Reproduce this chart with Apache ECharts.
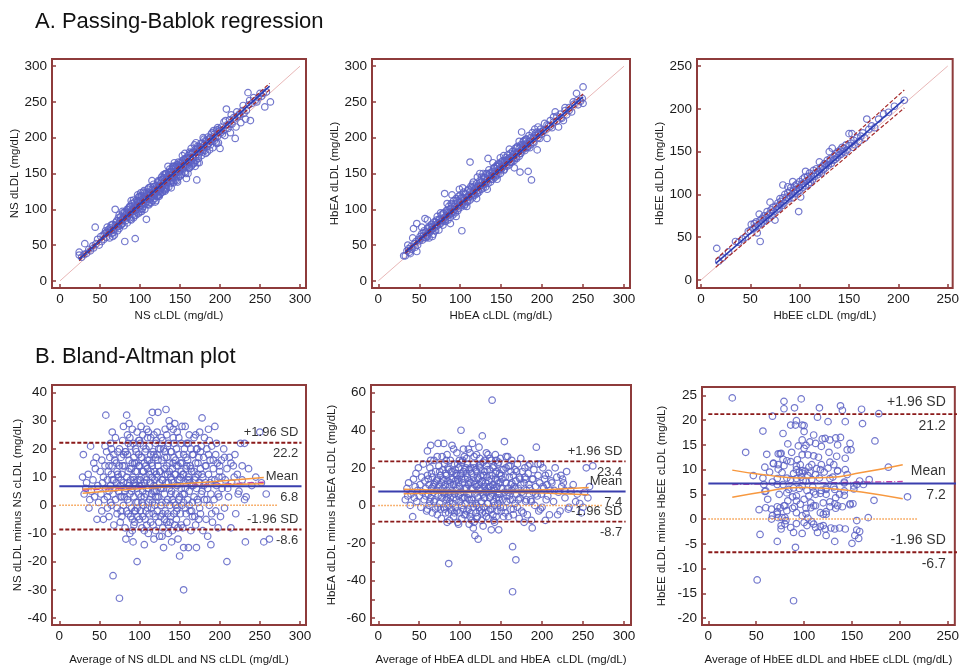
<!DOCTYPE html>
<html><head><meta charset="utf-8">
<script src="https://cdn.jsdelivr.net/npm/echarts@6/dist/echarts.min.js"></script>
<style>html,body{margin:0;padding:0;background:#fff}#c{width:962px;height:667px}</style>
</head><body><div id="c"></div>
<script>
// ---------------- DATA ----------------
const ticksPB300 = [0, 50, 100, 150, 200, 250, 300];
const ticksPB250 = [0, 50, 100, 150, 200, 250];
const ticksBAx300 = [0, 50, 100, 150, 200, 250, 300];
const ticksBAx250 = [0, 50, 100, 150, 200, 250];
const ticksNSy = [-40, -30, -20, -10, 0, 10, 20, 30, 40];
const ticksHbEAy = [-60, -40, -20, 0, 20, 40, 60];
const ticksHbEAyMinor = [-60, -50, -40, -30, -20, -10, 0, 10, 20, 30, 40, 50, 60];
const ticksHbEEy = [-20, -15, -10, -5, 0, 5, 10, 15, 20, 25];

// Passing-Bablok scatter: [cLDL, dLDL]
const nsPB = [
[24,40],[24,36],[27,33],[31,52],[33,38],[36,44],[38,42],[41,49],[44,75],[45,52],[47,58],[49,50],[42,46],[30,37],
[51,62],[52,55],[54,64],[55,58],[57,70],[58,61],[60,67],[61,72],[62,60],[63,74],[64,70],[65,66],[66,79],[67,72],[68,64],[69,100],[69,78],[70,82],[71,75],[72,70],[73,88],[74,80],[74,73],[56,66],[59,75],
[75,84],[76,90],[77,79],[78,86],[79,95],[80,77],[80,89],[81,55],[82,92],[82,84],[83,96],[84,81],[85,90],[85,99],[86,102],[87,88],[88,95],[88,104],[89,85],[90,97],[90,108],[91,93],[92,101],[92,88],[93,110],[94,59],[94,98],[95,104],[95,92],[96,113],[96,100],[97,106],[98,94],[98,112],[99,103],[99,118],[76,78],[78,97],[84,100],[89,112],[93,91],[97,120],
[100,105],[100,96],[101,113],[102,108],[102,119],[103,101],[104,112],[104,124],[105,107],[106,118],[106,100],[107,114],[108,86],[108,122],[109,111],[110,117],[110,128],[111,106],[112,120],[112,114],[113,131],[114,109],[114,122],[115,118],[116,127],[116,112],[117,135],[118,121],[118,115],[119,128],[120,124],[120,112],[121,133],[122,119],[122,127],[123,140],[124,125],[124,118],[125,132],[101,123],[105,115],[111,124],[115,140],[119,110],[123,131],
[125,121],[126,136],[127,130],[128,142],[128,124],[129,135],[130,138],[130,127],[131,149],[132,133],[133,141],[133,129],[134,146],[135,137],[136,131],[136,152],[137,144],[138,152],[138,136],[139,147],[140,140],[140,156],[141,145],[142,137],[142,153],[143,149],[144,160],[144,141],[145,151],[146,147],[146,162],[147,155],[148,145],[148,159],[149,152],[150,165],[127,145],[131,125],[135,160],[139,130],[143,165],[147,138],[126,128],[132,150],[141,160],
[150,155],[151,160],[152,149],[153,168],[154,158],[155,163],[156,152],[157,171],[158,143],[158,166],[159,160],[160,175],[161,165],[162,158],[163,178],[164,169],[165,162],[166,180],[167,172],[168,165],[169,184],[170,176],[171,141],[172,180],[173,171],[174,188],[175,181],[153,175],[160,150],[164,185],[168,190],[172,165],[156,178],[162,172],[170,193],
[176,186],[177,175],[178,192],[179,183],[180,198],[181,190],[182,178],[183,195],[184,188],[185,201],[186,192],[187,183],[188,200],[189,195],[190,207],[191,186],[192,199],[193,205],[195,194],[196,211],[197,202],[198,193],[199,212],[200,185],[179,200],
[201,207],[202,215],[204,210],[205,222],[206,203],[208,240],[209,218],[210,213],[212,225],[213,207],[215,219],[217,228],[219,199],[220,215],[222,230],[224,233],
[226,221],[228,238],[230,234],[232,226],[235,263],[236,246],[238,224],[240,248],[244,252],[248,256],[252,258],[256,243],[258,264],[263,250],
[62,70],[64,78],[67,68],[70,77],[73,76],[76,85],[79,88],[81,96],[83,88],[86,93],[87,104],[89,98],[91,100],[92,113],[94,102],[96,96],[97,110],[99,111],[100,117],[101,100],[103,114],[104,104],[106,123],[107,108],[109,120],[110,107],[111,130],[113,120],[114,116],[116,122],[117,120],[118,132],[120,130],[121,118],[122,138],[124,132],[125,140],[126,123],[128,132],[129,148],[130,144],[131,130],[133,150],[134,138],[135,143],[137,156],[138,140],[139,153],[141,138],[142,160],[143,144],[145,159],[146,140],[147,162],[149,158],[150,146],[152,164],[153,156],[155,170],[156,160],[157,150],[159,172],[160,166],[161,157],[163,172],[164,160],[165,178],[167,164],[168,180],[170,168],[171,184],[173,176],[174,165],[176,192],[178,180],[180,190],[182,196],[184,180],[186,198],[188,190],[190,198],[192,210],[194,200],[196,192],[198,208],[200,210],[203,205],[207,224],[211,218],[214,232],[218,226],[221,236],[225,232],[229,245],[233,238],[237,252],[242,256],[246,250],[250,262],[254,262],
[58,68],[66,62],[71,84],[74,92],[78,80],[84,94],[88,86],[93,106],[98,117],[102,97],[105,126],[108,115],[112,109],[115,128],[119,121],[123,118],[127,141],[132,127],[136,148],[140,150],[144,152],[148,166],[151,148],[154,165],[158,162],[162,180],[166,172],[169,160],[172,188],[177,186],[181,182],[185,192],[189,205],[193,196],[197,214]
];
const hbeaPB = [
[33,35],[35,42],[37,45],[38,40],[40,48],[41,44],[43,73],[44,52],[45,47],[46,55],[47,80],[47,41],[48,50],[49,58],[31,35],[36,50],[42,60],[39,38],
[50,56],[51,62],[52,59],[53,66],[54,57],[55,63],[56,70],[57,87],[57,61],[58,68],[59,64],[60,73],[61,67],[62,60],[63,75],[64,70],[65,79],[66,72],[67,65],[68,82],[69,75],[70,70],[71,85],[72,77],[73,81],[74,71],[53,75],[60,85],[66,62],[72,90],
[75,86],[76,80],[77,92],[78,84],[79,78],[80,95],[81,122],[81,88],[82,83],[83,98],[84,91],[85,85],[86,104],[87,95],[88,89],[89,108],[90,97],[91,92],[92,112],[93,100],[94,95],[95,115],[96,104],[97,98],[98,118],[99,106],[76,95],[84,108],[90,120],[95,90],[99,128],[88,80],
[100,110],[101,103],[102,70],[102,117],[103,108],[104,124],[105,112],[106,107],[107,122],[108,116],[109,110],[110,128],[111,118],[112,166],[112,113],[113,132],[114,121],[115,116],[116,138],[117,125],[118,120],[119,130],[120,126],[121,145],[122,131],[123,124],[124,140],[125,133],[103,130],[108,104],[115,135],[120,115],[124,150],
[126,128],[127,139],[128,134],[129,145],[130,137],[131,131],[132,150],[133,141],[134,171],[134,136],[135,155],[136,143],[137,138],[138,152],[139,147],[140,142],[141,158],[142,150],[143,145],[144,160],[145,153],[146,148],[147,164],[148,156],[149,150],[150,166],[128,150],[133,128],[140,165],[145,142],[149,172],
[151,158],[152,168],[153,162],[154,156],[155,172],[156,165],[157,160],[158,176],[159,168],[160,162],[161,178],[162,172],[163,166],[164,181],[165,174],[166,168],[167,185],[168,177],[169,171],[170,188],[171,180],[172,174],[173,152],[174,190],[153,175],[160,184],[166,158],[172,195],
[175,208],[176,184],[177,195],[178,188],[179,182],[180,198],[181,192],[182,186],[183,153],[184,203],[185,195],[186,190],[187,141],[188,207],[189,199],[190,193],[191,212],[192,203],[194,183],[195,215],[196,206],[197,199],[198,212],[199,205],[180,186],
[201,209],[203,220],[205,212],[206,199],[208,217],[210,224],[212,214],[214,229],[216,236],[218,223],[220,215],[222,233],[224,227],[226,224],[228,238],[230,232],[233,242],[236,236],[239,247],[242,262],[244,246],[247,251],[249,255],[250,271],[250,248],
[55,67],[58,60],[61,75],[63,68],[66,76],[69,70],[71,79],[74,86],[77,84],[79,94],[82,90],[84,98],[86,92],[88,101],[90,106],[92,96],[94,108],[96,112],[98,101],[100,120],[102,106],[104,116],[106,121],[108,111],[110,118],[112,125],[114,130],[116,119],[118,128],[120,136],[122,126],[124,133],[126,145],[128,130],[130,144],[132,138],[134,148],[136,150],[138,142],[140,153],[142,158],[144,148],[146,160],[148,162],[150,156],[152,160],[154,168],[156,162],[158,170],[160,172],[162,166],[164,176],[166,178],[168,172],[170,180],[172,185],[174,178],[176,190],[178,196],[180,190],[183,188],[186,200],[189,194],[192,206],[195,200],[198,208],[202,210],[206,218],[210,216],[214,222],[218,230],[223,228],[228,242],[233,238],[238,250],[243,252],
[60,62],[65,72],[70,82],[75,80],[80,84],[85,96],[89,94],[93,104],[97,110],[101,115],[105,105],[109,126],[113,118],[117,132],[121,122],[125,138],[129,136],[133,150],[137,146],[141,146],[145,162],[149,158],[153,154],[157,168],[161,166],[165,172],[169,186],[173,178],[177,184],[181,198],[185,186],[190,200],[194,208]
];
const hbeePB = [
[16,37],[18,22],[22,26],[28,33],[35,45],[38,44],[42,48],[45,50],[48,57],[50,58],[51,65],[53,60],[54,66],[55,62],[56,68],[57,55],[58,64],[59,77],[60,45],[60,70],[61,66],[62,72],[63,68],[64,75],[65,70],[66,73],[67,80],[68,76],[69,72],[70,91],[70,78],[71,82],[72,75],[73,85],[74,80],[75,70],[76,86],[77,82],[78,90],[79,84],[80,95],[80,88],[81,92],[82,87],[83,111],[83,96],[84,90],[85,100],[86,93],[87,97],[88,109],[88,102],[89,95],[90,104],[90,98],[91,108],[92,100],[93,115],[93,96],[94,105],[95,110],[95,101],[96,106],[97,112],[98,103],[99,80],[99,108],[100,115],[100,105],[101,97],[102,112],[103,118],[103,108],[104,113],[105,120],[106,127],[106,110],[107,116],[108,121],[109,112],[110,118],[110,125],[111,114],[112,122],[113,117],[114,128],[115,121],[116,125],[117,130],[118,123],[119,127],[120,138],[120,126],[121,131],[122,125],[123,133],[124,129],[125,136],[126,131],[127,135],[128,140],[129,134],[130,150],[130,138],[131,142],[132,136],[133,154],[134,140],[135,145],[136,141],[137,148],[138,143],[139,150],[140,146],[141,152],[142,147],[143,155],[144,150],[145,154],[146,149],[147,158],[148,152],[150,171],[150,157],[152,160],[153,171],[154,155],[155,163],[156,158],[158,166],[160,162],[162,168],[164,172],[166,166],[168,188],[170,176],[173,180],[176,178],[180,188],[185,194],[190,196],[196,203],[206,210]
];

// Bland-Altman scatter: [average, difference]
const nsBA = [
[29,10],[34,8],[30,18],[39,21],[46,17],[47,-5],[38,2],[31,4],[33,6],[36,11],[40,5],[42,9],[44,3],[45,13],[48,7],[49,1],[43,15],[37,-1],
[51,12],[52,4],[53,16],[54,8],[55,-5],[55,10],[56,2],[57,14],[58,32],[58,6],[59,19],[60,-1],[60,9],[61,12],[62,-4],[62,5],[63,17],[64,7],[64,22],[65,0],[65,11],[66,14],[67,-25],[67,4],[68,9],[68,-7],[69,16],[70,2],[70,24],[71,8],[72,12],[72,-3],[73,19],[74,5],[74,10],[75,-33],[75,14],[53,-2],[57,21],[66,26],
[76,7],[76,-6],[77,17],[78,3],[78,11],[79,23],[80,0],[80,8],[81,14],[82,-8],[82,5],[83,19],[84,32],[84,10],[85,2],[85,25],[86,12],[86,-3],[87,7],[87,16],[88,-10],[88,4],[89,21],[89,9],[90,13],[90,-1],[91,6],[91,27],[92,-13],[92,10],[93,17],[93,3],[94,8],[94,-6],[95,20],[95,12],[96,1],[96,15],[97,-20],[97,6],[97,26],[98,9],[98,-4],[99,18],[99,4],[80,28],[83,-12],[88,24],[91,-9],[95,-2],[99,23],[77,-2],[85,18],[93,-7],[87,29],
[100,7],[100,14],[101,-2],[101,22],[102,10],[102,3],[103,17],[103,-8],[104,5],[104,25],[105,12],[105,0],[106,-14],[106,8],[107,19],[107,-5],[108,4],[108,14],[109,27],[109,9],[110,-1],[110,16],[111,6],[111,-10],[112,21],[112,11],[113,2],[113,30],[114,8],[114,-6],[115,15],[115,4],[116,33],[116,10],[117,-3],[117,19],[118,7],[118,25],[119,0],[119,12],[120,17],[120,-9],[121,5],[121,23],[122,10],[122,-2],[123,33],[123,14],[124,3],[124,20],[125,8],[125,-11],[102,28],[106,-9],[110,24],[114,18],[118,-12],[122,26],[104,-4],[112,-3],[120,3],[116,1],
[126,12],[126,-4],[127,24],[127,6],[128,1],[128,16],[129,9],[129,-8],[130,-15],[130,20],[131,4],[131,13],[132,27],[132,-2],[133,34],[133,8],[134,17],[134,-6],[135,11],[135,2],[136,22],[136,-10],[137,6],[137,15],[138,28],[138,0],[139,10],[139,-4],[140,19],[140,5],[141,-9],[141,13],[142,24],[142,8],[143,1],[143,17],[144,29],[144,-7],[145,11],[145,4],[146,20],[146,-2],[147,7],[147,26],[148,14],[148,-12],[149,2],[149,18],[150,-18],[150,9],[128,-11],[134,25],[140,-13],[146,-5],[137,30],
[151,15],[151,-3],[152,22],[152,6],[153,28],[153,0],[154,11],[154,-8],[155,-30],[155,-15],[155,18],[156,4],[157,28],[157,-1],[158,13],[158,8],[159,22],[159,-6],[160,2],[160,16],[161,-15],[161,10],[162,25],[162,5],[163,-2],[163,14],[164,20],[164,-9],[165,7],[165,12],[166,-4],[167,18],[168,3],[168,24],[169,9],[170,-7],[170,15],[171,-15],[171,6],[172,20],[173,1],[173,11],[174,17],[174,-5],[175,8],[175,26],
[176,13],[176,-3],[177,21],[178,31],[178,5],[179,-9],[179,10],[180,17],[181,2],[181,24],[182,8],[183,-5],[183,14],[184,20],[185,-11],[185,6],[186,11],[187,23],[187,0],[188,16],[189,-14],[189,4],[190,9],[190,21],[191,-6],[192,13],[193,2],[194,28],[195,18],[195,-2],[196,7],[197,15],[198,-8],[199,10],[199,3],[186,27],
[200,12],[201,-4],[202,16],[203,6],[205,20],[206,-1],[207,9],[209,-20],[209,13],[211,3],[212,17],[214,-8],[215,8],[217,14],[219,18],[220,-3],[222,11],[224,5],[226,22],[228,9],[231,22],[231,2],[233,3],[232,-13],[236,13],[240,7],[245,10],[250,26],[255,-13],[262,-12],[252,8],[258,4],
[62,14],[64,1],[66,9],[68,18],[70,6],[72,-1],[73,11],[75,20],[77,9],[78,-4],[79,14],[81,3],[82,19],[84,-2],[85,8],[86,22],[88,13],[89,-4],[90,5],[91,15],[92,22],[93,9],[94,-2],[95,7],[96,19],[97,12],[98,1],[99,14],[100,-5],[101,9],[102,17],[103,1],[104,12],[105,21],[106,3],[107,10],[108,-2],[108,20],[109,6],[110,13],[111,1],[112,16],[113,8],[114,24],[115,-1],[116,14],[117,5],[118,18],[119,9],[120,-4],[120,22],[121,11],[122,3],[123,16],[124,-6],[125,12],[126,20],[127,0],[128,9],[129,23],[130,6],[131,-5],[131,17],[132,11],[133,1],[134,14],[135,-3],[135,21],[136,8],[137,12],[138,-6],[139,19],[140,9],[141,2],[142,15],[143,-3],[143,22],[144,11],[145,0],[146,14],[147,-1],[148,9],[149,24],[150,3],[151,10],[152,-7],[153,15],[154,4],[155,11],[156,20],[157,6],[158,-3],[159,14],[160,9],[161,22],[162,0],[163,8],[164,13],[165,-2],[166,18],[167,7],[168,12],[169,-4],[170,10],[171,20],[172,2],[173,15],[174,8],[175,-1],[176,19],[177,4],[178,11],[180,7],[182,14],[184,2],[186,18],[188,8],[190,-3],[192,16],[194,9],[196,22],[198,4],[200,14],[203,10],[206,17],[210,6],[214,15],[218,10],[223,4],[228,14],
[60,3],[65,20],[71,15],[76,3],[80,18],[83,6],[87,1],[91,-5],[94,15],[97,-1],[100,23],[103,7],[106,15],[109,-7],[111,26],[114,12],[117,-7],[119,5],[122,18],[126,6],[129,-3],[132,19],[136,-7],[139,4],[142,27],[145,16],[148,-8],[152,12],[155,1],[158,17],[162,9],[166,1],[170,25]
];
const hbeaBA = [
[33,3],[35,9],[37,12],[39,0],[40,6],[42,-6],[43,14],[44,4],[45,10],[46,17],[47,2],[48,8],[49,20],[50,5],[51,11],[52,-1],[53,15],[54,7],[55,22],[36,5],
[56,3],[57,13],[58,9],[59,-3],[60,29],[60,16],[61,6],[62,11],[62,0],[63,20],[64,32],[64,4],[65,9],[66,15],[66,-4],[67,7],[68,24],[68,2],[69,12],[70,-2],[70,18],[71,8],[72,14],[72,-5],[73,33],[73,5],[74,10],[74,21],[75,1],[76,16],[76,8],[77,-7],[77,12],[78,26],[78,4],[79,9],[79,19],[80,33],[80,-1],[80,13],
[81,6],[81,22],[82,11],[82,-4],[83,16],[83,3],[84,8],[84,27],[85,13],[85,0],[86,-31],[86,19],[86,6],[87,10],[87,-8],[88,24],[88,4],[89,14],[89,-2],[90,32],[90,8],[91,18],[91,1],[92,11],[92,-6],[93,22],[93,6],[94,13],[94,-1],[95,17],[95,3],[96,9],[96,28],[97,-9],[97,14],[98,5],[98,20],[99,10],[99,-4],[100,16],[100,2],[101,40],[101,7],[102,23],[102,-7],[103,12],[103,4],[104,18],[104,-2],[105,9],[105,26],[84,-9],[92,30],[98,-10],[104,30],
[106,14],[106,1],[107,20],[107,-5],[108,9],[108,25],[109,4],[109,15],[110,-2],[110,11],[111,-10],[111,19],[112,6],[112,28],[113,12],[113,-4],[114,17],[114,3],[115,33],[115,9],[116,22],[116,-1],[117,-9],[117,13],[118,-16],[118,6],[119,19],[119,1],[120,10],[120,27],[121,-6],[121,15],[122,-18],[122,4],[123,31],[123,11],[124,20],[124,-3],[125,8],[125,16],[126,-8],[126,2],[127,37],[127,13],[128,6],[128,23],[129,-1],[129,10],[130,18],[130,4],[110,30],[116,-12],[124,25],[128,-11],[120,0],
[131,12],[131,-4],[132,21],[132,7],[133,1],[133,15],[134,9],[134,27],[135,-7],[135,13],[136,4],[136,19],[137,-2],[137,10],[138,-13],[138,24],[139,56],[139,6],[139,16],[140,-5],[140,11],[141,2],[141,21],[142,8],[142,-9],[143,14],[143,27],[144,4],[144,18],[145,-3],[145,10],[146,22],[146,1],[147,-13],[147,12],[148,6],[148,17],[149,-1],[149,25],[150,9],[151,14],[152,3],[153,19],[154,34],[154,7],[155,-4],
[156,12],[156,20],[157,2],[158,9],[158,26],[159,-6],[160,15],[160,5],[161,21],[162,-2],[162,11],[163,8],[163,24],[164,-22],[164,-46],[164,3],[165,16],[165,-5],[166,10],[167,19],[167,1],[168,-29],[168,13],[169,6],[170,22],[170,-1],[171,9],[172,15],[172,-7],[173,4],[174,25],[174,11],[175,-3],[176,18],[177,6],[178,12],[178,-9],[179,20],[180,2],[180,14],
[181,8],[182,-5],[183,17],[184,11],[185,22],[186,3],[187,-8],[188,-12],[188,14],[189,7],[190,19],[191,0],[192,10],[193,31],[194,5],[195,16],[196,-3],[197,12],[198,22],[199,6],[200,-1],[201,20],[202,9],[203,14],[204,-8],[205,3],[206,11],[208,17],[209,-5],[210,8],
[212,12],[214,2],[216,20],[218,15],[220,7],[222,-3],[224,10],[225,14],[226,12],[228,4],[230,18],[232,-2],[233,-1],[235,8],[238,11],[241,2],[243,6],[246,1],[248,-4],[250,-1],[252,7],[254,20],[256,4],[262,21],[258,10],
[58,5],[61,14],[63,2],[65,17],[67,10],[69,3],[71,13],[73,-1],[75,18],[77,5],[79,14],[81,-2],[82,17],[84,4],[85,20],[87,2],[88,12],[90,-3],[91,14],[92,4],[94,19],[95,8],[96,-3],[97,22],[98,12],[100,6],[101,17],[102,0],[103,24],[105,4],[106,19],[107,9],[108,-3],[109,22],[110,6],[111,13],[112,-6],[113,20],[114,9],[115,1],[116,15],[117,26],[118,11],[119,-4],[120,18],[121,5],[122,14],[123,-1],[124,9],[125,22],[126,12],[127,-4],[128,16],[129,4],[130,24],[131,8],[132,-6],[133,19],[134,1],[135,10],[136,25],[137,5],[138,14],[139,-2],[140,20],[141,9],[142,0],[143,17],[144,-6],[145,13],[146,6],[147,23],[148,3],[149,12],[150,-3],[151,19],[152,9],[153,-6],[155,15],[157,5],[159,21],[161,3],[163,12],[165,-2],[167,9],[169,18],[171,3],[173,14],[175,7],[177,-4],[179,15],[181,3],[183,21],[185,9],[187,2],[189,14],[192,6],[195,22],[198,-2],[201,10],[204,16],[207,5],[211,13],[215,8],[219,-5],[223,16],[228,8],
[60,-2],[64,24],[68,11],[72,26],[76,-2],[80,7],[83,24],[86,-4],[89,18],[93,-4],[96,16],[99,24],[102,14],[105,-5],[108,17],[111,3],[114,-8],[117,20],[120,-7],[123,21],[126,-2],[129,16],[132,28],[135,-3],[138,8],[141,-8],[144,24],[147,4],[150,16],[153,-1],[156,26],[159,7],[162,18]
];
const hbeeBA = [
[25,24.5],[79,23.8],[79,22.3],[97,24.3],[90,22.5],[116,22.5],[67,20.8],[114,20.6],[86,19],[91,19],[98,19],[100,18.9],[92,19.9],[57,17.8],[78,17.3],[100,17.7],[110,17],[98,16],[112,15.3],[119,16.2],[122,16.3],[118,14.7],[100,14.3],[102,14.9],[39,13.5],[61,13.1],[73,13.2],[75,13.2],[98,13],[104,13],[110,12.8],[82,11.8],[86,11.6],[68,11.2],[93,12],[96,11],[59,10.5],[79,10.8],[92,10.7],[105,10.5],[108,11],[73,10.1],[77,9.4],[98,9.8],[101,9.7],[106,9.5],[89,9.2],[95,9.5],[121,9.5],[112,9],[82,8.3],[86,8],[92,8.2],[97,8.5],[102,7.7],[108,8],[116,8.3],[72,8.2],[47,8.8],[67,7.5],[72,7],[78,7],[89,6.3],[98,6.7],[60,5.7],[74,5],[82,5.3],[103,5.8],[110,5.5],[118,5.8],[92,4.7],[123,5],[60,2.3],[83,3.7],[92,3.7],[100,4],[107,3.3],[110,2.7],[120,3.3],[72,2.5],[80,2.7],[90,2.5],[102,2.2],
[138,22.9],[140,22],[160,22.2],[178,21.3],[143,19.7],[161,19.3],[125,19.7],[127,16],[133,16.4],[138,16.5],[135,15],[148,15.3],[149,14],[174,15.8],[134,12.7],[143,12.3],[127,11.5],[131,11],[125,10.3],[135,9.7],[143,10],[188,10.5],[127,8.2],[142,7.5],[155,7],[158,7.7],[123,6.3],[132,6],[142,5.7],[152,6.1],[208,4.5],[173,3.8],[127,3.5],[135,2.7],[148,3.1],[151,3.1],
[53,1.9],[66,2],[72,1.5],[75,2.3],[79,2.7],[82,1.7],[88,2.2],[92,1.3],[67,0.7],[66,0],[77,0.3],[81,-0.3],[98,0.7],[102,1.1],[107,2.3],[112,2.7],[117,1.3],[120,1],[123,1.5],[92,-0.9],[76,-1.3],[76,-2],[100,-0.7],[103,-1.3],[110,-1],[112,-1.7],[117,-1.5],[120,-1.3],[89,-2.7],[98,-2.9],[114,-2.7],[123,-3.3],[54,-3.1],[72,-4.5],[91,-5.7],[51,-12.3],[89,-16.5],
[123,1],[133,2.2],[140,2.5],[148,2.9],[127,2.5],[155,-0.3],[167,0.3],[122,-2],[128,-1.8],[132,-2],[137,-1.8],[143,-2],[155,-2.2],[158,-2.5],[153,-3.3],[157,-3.9],[132,-4.5],[150,-4.9],
[142,7.3],[152,6.7],[162,7],[168,8],[133,4.3],[142,4.8],[123,6],[131,6.5],[117,5.2],[132,3.1],[112,5],[105,4.7],[92,10],[98,9.3],[118,11],[117,10],[135,9.8],[145,14],[57,8.3],[58,7],[59,5.6],[68,11.3],[73,11],[78,12.1],[76,13.3],[72,1],[73,0.3],[80,0.3],[80,-1],[86,-1.7],
[84,6],[88,4.5],[95,6.2],[99,7.8],[104,8.8],[109,6.5],[113,10.2],[115,12.5],[106,15.6],[94,14.8],[87,13.5],[83,15.2],[96,3],[104,0.2],[108,-0.5],[126,13.5],[130,8.5],[137,5],[145,9],[64,9.5],[62,4]
];

// Passing-Bablok fitted lines (end points): regression, upper CI, lower CI
const nsReg = [[24,30],[262,272]];
const nsRegUp = [[24,31.5],[262,276]];
const nsRegLo = [[24,28],[262,267]];
const nsIdentity = [[0,0],[300,300]];
const hbeaReg = [[33,40],[250,257]];
const hbeaRegUp = [[33,41.5],[250,261]];
const hbeaRegLo = [[33,38.5],[250,253]];
const hbeaIdentity = [[0,0],[300,300]];
const hbeeReg = [[15,19.5],[206,211]];
const hbeeRegUp = [[15,24],[206,222]];
const hbeeRegLo = [[15,15],[206,201]];
const hbeeIdentity = [[0,0],[250,250]];

// Bland-Altman statistics: [+1.96 SD, mean, -1.96 SD]
const nsStats = [22.2, 6.8, -8.6];
const hbeaStats = [23.4, 7.4, -8.7];
const hbeeStats = [21.2, 7.2, -6.7];
const baLabels = ['+1.96 SD', 'Mean', '-1.96 SD'];
// Bland-Altman regression of differences and its confidence band
const nsTrend = [[29,5.4],[255,8.2]];
const nsTrendUp = [[29,5.8],[140,7.4],[255,9.9]];
const nsTrendLo = [[29,4.3],[140,6.6],[255,7.6]];
const hbeaTrend = [[31,7.4],[257,7.6]];
const hbeaTrendUp = [[31,8.6],[145,7.8],[257,9.5]];
const hbeaTrendLo = [[31,6.2],[145,7.0],[257,5.6]];
const hbeeTrend = [[25,7.0],[203,7.6]];
const hbeeTrendUp = [[25,9.9],[60,8.9],[100,8.3],[125,8.4],[160,9.4],[203,11.0]];
const hbeeTrendLo = [[25,4.4],[60,5.6],[95,6.4],[125,6.2],[160,5.5],[203,4.1]];

// ---------------- CHART ----------------
const FONT = '"Liberation Sans", Arial, sans-serif';
const FRAME = '#8e3b3b';
const PT = '#5b60c4';

const grids = [
  {left: 52, top: 59, width: 254, height: 229},
  {left: 372, top: 59, width: 258, height: 229},
  {left: 697, top: 59, width: 258, height: 229},
  {left: 52, top: 385, width: 254, height: 242},
  {left: 371, top: 385, width: 260, height: 242},
  {left: 702, top: 387, width: 264, height: 240}
].map(g => Object.assign({show: true, borderColor: FRAME, borderWidth: 2, backgroundColor: 'transparent'}, g));

function axis(gi, min, max, ticks, name, gap, isY, minorTicks) {
  return {
    gridIndex: gi, type: 'value', min: min, max: max,
    name: name, nameLocation: 'middle', nameGap: gap,
    nameTextStyle: {fontSize: 11.5, color: '#1a1a1a', fontFamily: FONT},
    axisLine: {show: false, onZero: false},
    axisTick: {show: true, inside: true, length: 4, customValues: minorTicks || ticks, lineStyle: {color: FRAME, width: 1.5}},
    axisLabel: {customValues: ticks, fontSize: 13.5, color: '#1a1a1a', fontFamily: FONT, margin: isY ? 5 : 4},
    splitLine: {show: false}
  };
}

const xAxes = [
  axis(0, -10, 307.5, ticksPB300, 'NS cLDL (mg/dL)', 22, false),
  axis(1, -7.7, 307.3, ticksPB300, 'HbEA cLDL (mg/dL)', 22, false),
  axis(2, -4, 255, ticksPB250, 'HbEE cLDL (mg/dL)', 22, false),
  axis(3, -9.1, 307.6, ticksBAx300, 'Average of NS dLDL and NS cLDL (mg/dL)', 29, false),
  axis(4, -8.9, 308.6, ticksBAx300, 'Average of HbEA dLDL and HbEA  cLDL (mg/dL)', 29, false),
  axis(5, -6.6, 257.4, ticksBAx250, 'Average of HbEE dLDL and HbEE cLDL (mg/dL)', 29, false)
];
const yAxes = [
  axis(0, -10, 310, ticksPB300, 'NS dLDL (mg/dL)', 28, true),
  axis(1, -10, 310, ticksPB300, 'HbEA dLDL (mg/dL)', 29, true),
  axis(2, -9.3, 258.2, ticksPB250, 'HbEE dLDL (mg/dL)', 29, true),
  axis(3, -42.5, 42.7, ticksNSy, 'NS dLDL minus NS cLDL (mg/dL)', 28, true),
  axis(4, -63.7, 64.1, ticksHbEAy, 'HbEA dLDL minus HbEA cLDL (mg/dL)', 33, true, ticksHbEAyMinor),
  axis(5, -21.4, 26.7, ticksHbEEy, 'HbEE dLDL minus HbEE cLDL (mg/dL)', 34, true)
];

const series = [];
function scatter(gi, data) {
  series.push({type: 'scatter', xAxisIndex: gi, yAxisIndex: gi, data: data, symbol: 'circle', symbolSize: 6.5,
    itemStyle: {color: 'rgba(255,255,255,0)', borderColor: PT, borderWidth: 1.2, opacity: 0.85}, z: 2});
}
function line(gi, data, color, width, type, smooth, z) {
  series.push({type: 'line', xAxisIndex: gi, yAxisIndex: gi, data: data, symbol: 'none', smooth: !!smooth,
    lineStyle: {color: color, width: width, type: type || 'solid'}, z: z || 3});
}

// Passing-Bablok panels
[[0, nsPB, nsIdentity, nsReg, nsRegUp, nsRegLo],
 [1, hbeaPB, hbeaIdentity, hbeaReg, hbeaRegUp, hbeaRegLo],
 [2, hbeePB, hbeeIdentity, hbeeReg, hbeeRegUp, hbeeRegLo]].forEach(p => {
  const gi = p[0];
  line(gi, p[2], '#e9b7b7', 1, 'solid', false, 1);
  scatter(gi, p[1]);
  line(gi, p[4], '#a52a2a', 1.2, [4, 2]);
  line(gi, p[5], '#a52a2a', 1.2, [4, 2]);
  line(gi, p[3], '#2b3db3', 1.6);
});

// Bland-Altman panels
const baCfg = [
  {gi: 3, pts: nsBA, st: nsStats, tr: nsTrend, up: nsTrendUp, lo: nsTrendLo, xEnd: 302, zeroEnd: 272, labX: 298, fs: 13, off: [-10, 11]},
  {gi: 4, pts: hbeaBA, st: hbeaStats, tr: hbeaTrend, up: hbeaTrendUp, lo: hbeaTrendLo, xEnd: 302, zeroEnd: 274, labX: 298, fs: 13, off: [-10, 11]},
  {gi: 5, pts: hbeeBA, st: hbeeStats, tr: hbeeTrend, up: hbeeTrendUp, lo: hbeeTrendLo, xEnd: 262, zeroEnd: 218, labX: 248, fs: 14, off: [-12, 12]}
];
baCfg.forEach(c => {
  scatter(c.gi, c.pts);
  line(c.gi, [[0, 0], [c.zeroEnd, 0]], '#f59a45', 1.5, 'dotted');
  line(c.gi, [[0, c.st[0]], [c.xEnd, c.st[0]]], '#8b1a1a', 1.8, [4, 2]);
  line(c.gi, [[0, c.st[2]], [c.xEnd, c.st[2]]], '#8b1a1a', 1.8, [4, 2]);
  line(c.gi, c.tr, '#c23fa6', 1.4, [6, 2, 1, 2]);
  line(c.gi, c.up, '#f7983f', 1.5, 'solid', true);
  line(c.gi, c.lo, '#f7983f', 1.5, 'solid', true);
  line(c.gi, [[0, c.st[1]], [c.xEnd, c.st[1]]], '#3a3fae', 2);
  const labs = [];
  c.st.forEach((v, i) => {
    labs.push({value: [c.labX, v], label: {formatter: baLabels[i], offset: [0, c.off[0]]}});
    labs.push({value: [c.labX, v], label: {formatter: v.toFixed(1), offset: [0, c.off[1]]}});
  });
  series.push({type: 'scatter', xAxisIndex: c.gi, yAxisIndex: c.gi, data: labs, symbolSize: 0, silent: true, z: 5,
    label: {show: true, position: 'left', distance: 0, color: '#000', fontSize: c.fs, fontFamily: FONT}});
});

const chart = echarts.init(document.getElementById('c'), null, {renderer: 'canvas'});
chart.setOption({
  animation: false,
  backgroundColor: '#fff',
  textStyle: {fontFamily: FONT},
  graphic: [
    {type: 'text', x: 35, y: 22, style: {text: 'A. Passing-Bablok regression', fontSize: 22, fontFamily: FONT, fill: '#111', verticalAlign: 'middle'}},
    {type: 'text', x: 35, y: 357, style: {text: 'B. Bland-Altman plot', fontSize: 22, fontFamily: FONT, fill: '#111', verticalAlign: 'middle'}}
  ],
  grid: grids,
  xAxis: xAxes,
  yAxis: yAxes,
  series: series
});
</script>
</body></html>
